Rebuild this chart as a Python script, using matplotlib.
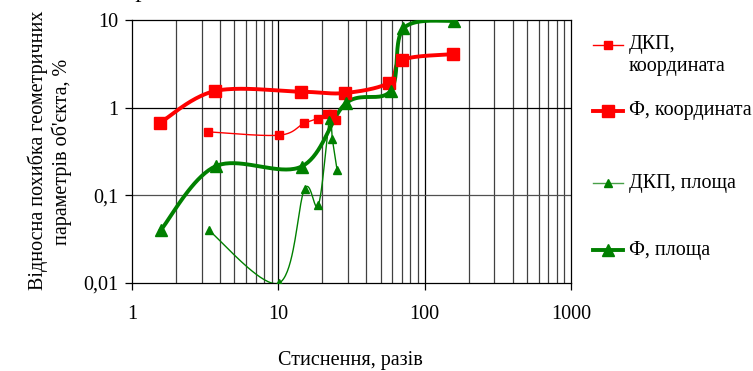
import numpy as np
import matplotlib
matplotlib.use("Agg")
import matplotlib.pyplot as plt
from matplotlib.lines import Line2D

plt.rcParams['font.family'] = ['Liberation Serif', 'DejaVu Serif']

# Data
dkp_coord_x = [3.3, 10.1, 14.9, 18.6, 21.5, 23.2, 24.8]
dkp_coord_y = [0.53, 0.485, 0.66, 0.75, 0.84, 0.85, 0.72]

f_coord_x = [1.55, 3.7, 14.3, 28.6, 57, 70, 156]
f_coord_y = [0.67, 1.55, 1.52, 1.47, 1.92, 3.5, 4.08]

dkp_area_x = [3.34, 10.1, 15.1, 18.8, 22.3, 23.4, 25.2]
dkp_area_y = [0.040, 0.010, 0.118, 0.078, 0.72, 0.435, 0.195]

f_area_x = [1.57, 3.73, 14.4, 28.9, 58.6, 71.6, 158]
f_area_y = [0.040, 0.215, 0.213, 1.12, 1.56, 8.0, 9.8]

x_ticks = [1, 10, 100, 1000]
x_ticklabels = ['1', '10', '100', '1000']
y_ticks = [0.01, 0.1, 1, 10]
y_ticklabels = ['0,01', '0,1', '1', '10']

labels = ['ДКП,\nкоордината', 'Ф, координата', 'ДКП, площа', 'Ф, площа']

FS = 14.5


def smooth(xs, ys, n=40):
    lx = np.log10(xs)
    ly = np.log10(ys)
    P = np.column_stack([lx, ly])
    m = len(P)
    out = []
    for i in range(m - 1):
        p0 = P[i - 1] if i > 0 else P[i]
        p1 = P[i]
        p2 = P[i + 1]
        p3 = P[i + 2] if i + 2 < m else P[i + 1]
        c1 = p1 + (p2 - p0) / 6.0
        c2 = p2 - (p3 - p1) / 6.0
        t = np.linspace(0, 1, n)[:, None]
        seg = ((1 - t) ** 3) * p1 + 3 * ((1 - t) ** 2) * t * c1 + 3 * (1 - t) * t ** 2 * c2 + t ** 3 * p2
        out.append(seg if i == 0 else seg[1:])
    s = np.vstack(out)
    return 10 ** s[:, 0], 10 ** s[:, 1]


fig = plt.figure(figsize=(7.53, 3.71), dpi=100)
ax = fig.add_axes([132 / 753, 1 - 283 / 371, (571 - 132) / 753, (283 - 20) / 371])
ax.set_xscale('log')
ax.set_yscale('log')
ax.set_xlim(1, 1000)
ax.set_ylim(0.01, 10)

# grid
for dec in [1, 10, 100]:
    for k in range(2, 10):
        ax.axvline(dec * k, color='#404040', lw=0.9, zorder=1)
for v in [10, 100]:
    ax.axvline(v, color='black', lw=0.9, zorder=1)
ax.axhline(0.1, color='#505050', lw=0.9, zorder=1)
ax.axhline(1, color='black', lw=0.9, zorder=1)

red = '#ff0000'
green = '#008000'

sx, sy = smooth(dkp_coord_x, dkp_coord_y)
ax.plot(sx, sy, color=red, lw=1.0, zorder=3)
ax.plot(dkp_coord_x, dkp_coord_y, 's', color=red, ms=6, zorder=4, lw=0)

sx, sy = smooth(f_coord_x, f_coord_y)
ax.plot(sx, sy, color=red, lw=2.8, zorder=3)
ax.plot(f_coord_x, f_coord_y, 's', color=red, ms=9, zorder=4, lw=0)

sx, sy = smooth(dkp_area_x, dkp_area_y)
ax.plot(sx, sy, color=green, lw=1.0, zorder=3)
ax.plot(dkp_area_x, dkp_area_y, '^', color=green, ms=6, zorder=4, lw=0)

sx, sy = smooth(f_area_x, f_area_y)
ax.plot(sx, sy, color=green, lw=2.8, zorder=3)
ax.plot(f_area_x, f_area_y, '^', color=green, ms=9, zorder=4, lw=0)

ax.set_xticks(x_ticks)
ax.set_xticklabels(x_ticklabels)
ax.set_yticks(y_ticks)
ax.set_yticklabels(y_ticklabels)
ax.minorticks_off()
ax.tick_params(axis='both', direction='out', length=5, width=0.9, labelsize=FS, color='black')
ax.tick_params(axis='x', pad=11)
ax.tick_params(axis='y', pad=5)
for sp in ax.spines.values():
    sp.set_linewidth(0.9)
    sp.set_color('black')

fig.text(350 / 753, 1 - 360 / 371, 'Стиснення, разів', ha='center', va='center', fontsize=FS)
fig.text(38 / 753, 1 - 150 / 371, 'Відносна похибка геометричних', rotation=90,
         ha='center', va='center', fontsize=FS)
fig.text(62 / 753, 1 - 152 / 371, "параметрів об'єкта, %", rotation=90,
         ha='center', va='center', fontsize=FS)
fig.text(140 / 753, 1 + 2 / 371, 'Р', ha='center', va='center', fontsize=FS)

# legend (manual)
leg_y = [45, 111, 183, 250]
styles = [(red, 1.0, 's', 6), (red, 2.8, 's', 8), ('#48a048', 1.0, '^', 6), (green, 2.8, '^', 8)]
for lab, y, (c, lw, mk, ms) in zip(labels, leg_y, styles):
    yf = 1 - y / 371
    fig.add_artist(Line2D([593 / 753, 623 / 753], [yf, yf], color=c, lw=lw))
    mc = green if mk == '^' else c
    fig.add_artist(Line2D([608 / 753], [yf], marker=mk, color=mc, ms=ms, lw=0))
    if '\n' in lab:
        fig.text(629 / 753, yf + 10 / 371, lab, ha='left', va='top', fontsize=FS, linespacing=1.2)
    else:
        fig.text(629 / 753, yf, lab, ha='left', va='center', fontsize=FS)

fig.savefig('out.png', dpi=100)
